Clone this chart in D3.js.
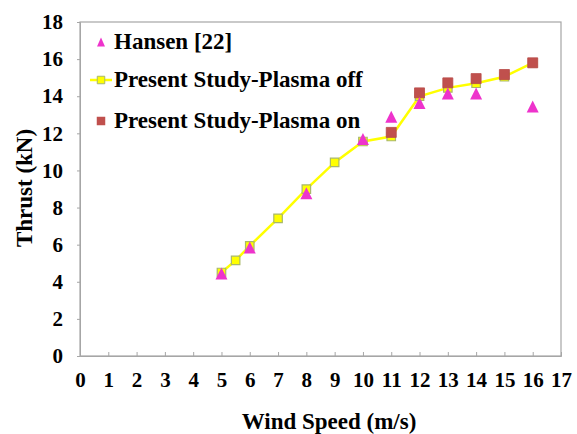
<!DOCTYPE html>
<html>
<head>
<meta charset="utf-8">
<script src="https://cdn.jsdelivr.net/npm/d3@7"></script>
<style>
  body { margin: 0; background: #fff; }
</style>
</head>
<body>
<div id="chart"></div>
<script>
// data
const hansenX = [5, 6, 8, 10, 11, 12, 13, 14, 16]
const hansenY = [4.45, 5.85, 8.77, 11.7, 12.9, 13.64, 14.14, 14.14, 13.45]
const offX = [5, 5.5, 6, 7, 8, 9, 10, 11, 12, 13, 14, 15, 16]
const offY = [4.5, 5.15, 5.94, 7.42, 8.99, 10.43, 11.56, 11.83, 14.0, 14.45, 14.7, 15.05, 15.8]
const onX = [11, 12, 13, 14, 15, 16]
const onY = [12.05, 14.18, 14.72, 14.95, 15.17, 15.8]
const xTicks = d3.range(0, 18)
const yTicks = d3.range(0, 19, 2)

const width = 577
const height = 434
const margin = {left: 80, right: 16, top: 22, bottom: 78}
const serif = "'Liberation Serif', 'Times New Roman', serif"

const svg = d3.select("#chart")
  .append("svg")
    .attr("width", width)
    .attr("height", height)

const x = d3.scaleLinear()
  .domain([0, 17])
  .range([margin.left, width - margin.right])
const y = d3.scaleLinear()
  .domain([0, 18])
  .range([height - margin.bottom, margin.top])

// frame
svg.append("rect")
  .attr("x", x(0))
  .attr("y", y(18))
  .attr("width", x(17) - x(0))
  .attr("height", y(0) - y(18))
  .attr("fill", "none")
  .attr("stroke", "#a6a6a6")
  .attr("stroke-width", 1.2)

// x axis, ticks point inward
const xAxis = svg.append("g")
  .attr("transform", `translate(0,${y(0)})`)
  .call(d3.axisBottom(x).tickValues(xTicks).tickSize(-4).tickPadding(16))
xAxis.select(".domain").attr("stroke", "#a6a6a6")
xAxis.selectAll(".tick line").attr("stroke", "#a6a6a6")
xAxis.selectAll(".tick text")
  .style("font-family", serif)
  .style("font-weight", "bold")
  .style("font-size", "21px")
  .attr("fill", "#000")

// y axis
const yAxis = svg.append("g")
  .attr("transform", `translate(${x(0)},0)`)
  .call(d3.axisLeft(y).tickValues(yTicks).tickSize(3).tickPadding(14))
yAxis.select(".domain").attr("stroke", "#a6a6a6")
yAxis.selectAll(".tick line").attr("stroke", "#a6a6a6")
yAxis.selectAll(".tick text")
  .style("font-family", serif)
  .style("font-weight", "bold")
  .style("font-size", "21px")
  .attr("fill", "#000")

// axis titles
svg.append("text")
  .attr("x", 329)
  .attr("y", 429)
  .attr("text-anchor", "middle")
  .style("font-family", serif)
  .style("font-weight", "bold")
  .style("font-size", "23px")
  .text("Wind Speed (m/s)")

svg.append("text")
  .attr("transform", `translate(32,188) rotate(-90)`)
  .attr("text-anchor", "middle")
  .style("font-family", serif)
  .style("font-weight", "bold")
  .style("font-size", "23px")
  .text("Thrust (kN)")

// plasma off line
const offPts = offX.map((d, i) => [d, offY[i]])
svg.append("path")
  .datum(offPts)
  .attr("fill", "none")
  .attr("stroke", "#ffff00")
  .attr("stroke-width", 2.5)
  .attr("d", d3.line().x(d => x(d[0])).y(d => y(d[1])))

// square of side s, triangle w wide and h tall
const square = s => `M${-s / 2},${-s / 2}h${s}v${s}h${-s}Z`
const triangle = (w, h) => `M0,${-h / 2}L${w / 2},${h / 2}L${-w / 2},${h / 2}Z`

svg.append("g")
  .selectAll("path")
  .data(offPts)
  .join("path")
    .attr("transform", d => `translate(${x(d[0])},${y(d[1])})`)
    .attr("d", square(8.5))
    .attr("fill", "#ffff00")
    .attr("stroke", "#a9b86a")
    .attr("stroke-width", 1.2)

// plasma on
const onPts = onX.map((d, i) => [d, onY[i]])
svg.append("g")
  .selectAll("path")
  .data(onPts)
  .join("path")
    .attr("transform", d => `translate(${x(d[0])},${y(d[1])})`)
    .attr("d", square(10))
    .attr("fill", "#c0504d")
    .attr("stroke", "#b84a47")
    .attr("stroke-width", 0.8)

// Hansen
const hPts = hansenX.map((d, i) => [d, hansenY[i]])
svg.append("g")
  .selectAll("path")
  .data(hPts)
  .join("path")
    .attr("transform", d => `translate(${x(d[0])},${y(d[1])})`)
    .attr("d", triangle(12, 12))
    .attr("fill", "#ee33cc")

// legend
const legend = svg.append("g")
const rows = [
  {label: "Hansen [22]", y: 42},
  {label: "Present Study-Plasma off", y: 80},
  {label: "Present Study-Plasma on", y: 121}
]
legend.selectAll("text")
  .data(rows)
  .join("text")
    .attr("x", 114)
    .attr("y", d => d.y + 7)
    .style("font-family", serif)
    .style("font-weight", "bold")
    .style("font-size", "23px")
    .text(d => d.label)

legend.append("path")
  .attr("transform", `translate(101,${rows[0].y})`)
  .attr("d", triangle(8, 9))
  .attr("fill", "#ee33cc")
legend.append("line")
  .attr("x1", 90).attr("x2", 112)
  .attr("y1", rows[1].y).attr("y2", rows[1].y)
  .attr("stroke", "#ffff00")
  .attr("stroke-width", 2.5)
legend.append("path")
  .attr("transform", `translate(101,${rows[1].y})`)
  .attr("d", square(7.5))
  .attr("fill", "#ffff00")
  .attr("stroke", "#a9b86a")
legend.append("path")
  .attr("transform", `translate(101,${rows[2].y})`)
  .attr("d", square(8.5))
  .attr("fill", "#c0504d")
</script>
</body>
</html>
